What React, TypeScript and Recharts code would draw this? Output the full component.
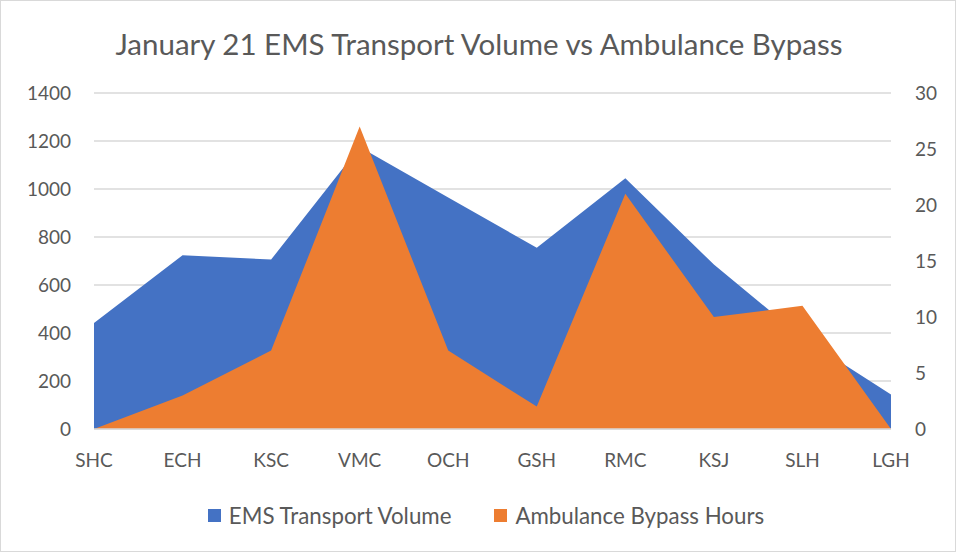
import { AreaChart, Area, XAxis, YAxis, CartesianGrid, Legend } from "recharts";

const hospitals = ["SHC", "ECH", "KSC", "VMC", "OCH", "GSH", "RMC", "KSJ", "SLH", "LGH"];
const transportVolume = [442, 724, 706, 1175, 965, 755, 1045, 685, 380, 144];
const bypassHours = [0, 3, 7, 27, 7, 2, 21, 10, 11, 0];
const volumeTicks = [0, 200, 400, 600, 800, 1000, 1200, 1400];
const hourTicks = [0, 5, 10, 15, 20, 25, 30];
const seriesOrder = ["volume", "bypass"];

const data = hospitals.map((name, i) => ({
  name,
  volume: transportVolume[i],
  bypass: bypassHours[i],
}));

const FONT = "Lato, 'Open Sans', sans-serif";
const TEXT = "#595959";
const GRID = "#d9d9d9";

function LegendContent(props: any) {
  const items = [...(props.payload || [])].sort(
    (a: any, b: any) => seriesOrder.indexOf(a.dataKey) - seriesOrder.indexOf(b.dataKey)
  );
  return (
    <div
      style={{
        display: "flex",
        justifyContent: "center",
        gap: 43,
        fontFamily: FONT,
        fontSize: 22.3,
        color: TEXT,
        paddingLeft: 16,
      }}
    >
      {items.map((p: any) => (
        <div key={p.value} style={{ display: "flex", alignItems: "center" }}>
          <span style={{ width: 13, height: 13, background: p.color, display: "inline-block", marginRight: 8 }} />
          <span>{p.value}</span>
        </div>
      ))}
    </div>
  );
}

export default function App() {
  return (
    <div
      style={{
        position: "absolute",
        left: 0,
        top: 0,
        width: 956,
        height: 552,
        background: "#fff",
        border: `1px solid ${GRID}`,
        boxSizing: "border-box",
      }}
    >
      <div
        style={{
          position: "absolute",
          top: 25,
          left: 0,
          width: 956,
          textAlign: "center",
          fontFamily: FONT,
          fontSize: 29.5,
          color: TEXT,
        }}
      >
        January 21 EMS Transport Volume vs Ambulance Bypass
      </div>
      <AreaChart
        width={954}
        height={550}
        data={data}
        margin={{ top: 92, right: 0, bottom: 92, left: 0 }}
        style={{ position: "absolute", left: 0, top: 0 }}
      >
        <CartesianGrid vertical={false} stroke={GRID} strokeWidth={1.3} yAxisId="left" />
        <XAxis
          dataKey="name"
          height={30}
          tickLine={false}
          axisLine={{ stroke: GRID, strokeWidth: 1.3 }}
          tickMargin={19}
          interval={0}
          tick={{ fill: TEXT, fontSize: 19, fontFamily: FONT }}
        />
        <YAxis
          yAxisId="left"
          width={93}
          domain={[0, 1400]}
          ticks={volumeTicks}
          tickLine={false}
          axisLine={false}
          tickMargin={17}
          tick={{ fill: TEXT, fontSize: 19, fontFamily: FONT }}
        />
        <YAxis
          yAxisId="right"
          orientation="right"
          width={64}
          domain={[0, 30]}
          ticks={hourTicks}
          tickLine={false}
          axisLine={false}
          tickMargin={18}
          tick={{ fill: TEXT, fontSize: 19, fontFamily: FONT, textAnchor: "start" }}
        />
        <Area
          yAxisId="left"
          type="linear"
          dataKey="volume"
          name="EMS Transport Volume"
          stroke="none"
          fill="#4472C4"
          fillOpacity={1}
          isAnimationActive={false}
        />
        <Area
          yAxisId="right"
          type="linear"
          dataKey="bypass"
          name="Ambulance Bypass Hours"
          stroke="none"
          fill="#ED7D31"
          fillOpacity={1}
          isAnimationActive={false}
        />
        <Legend
          layout="horizontal"
          verticalAlign="middle"
          align="center"
          content={LegendContent}
          wrapperStyle={{ position: "absolute", top: 501, left: 0, width: 954 }}
        />
      </AreaChart>
    </div>
  );
}
